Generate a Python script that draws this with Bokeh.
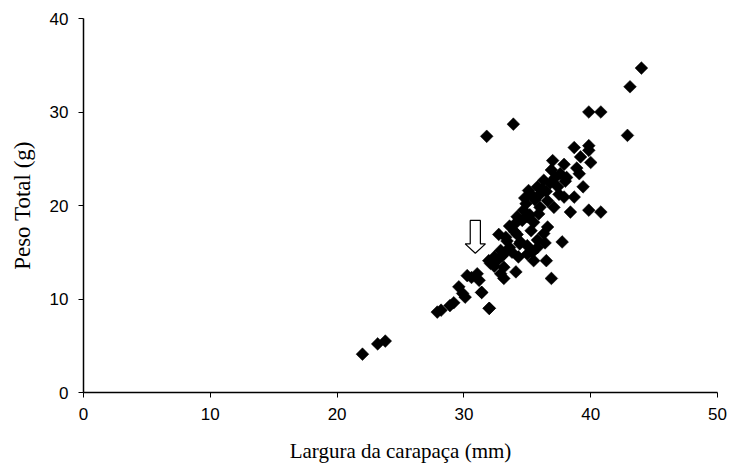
import numpy as np
from bokeh.plotting import figure
from bokeh.models import Range1d, FixedTicker, ColumnDataSource
from bokeh.embed import file_html
from bokeh.resources import INLINE

# Largura da carapaça (mm)
largura = [
    22.0, 23.2, 23.8,
    27.9, 28.2, 28.9, 29.2, 29.6, 29.9, 30.1, 30.26, 31.05, 31.2, 30.6,
    31.4, 32.0, 31.8, 33.9,
    31.96, 32.4, 32.9, 33.15, 32.9, 33.15, 32.75, 33.6, 34.2, 34.46, 35.0,
    35.4, 35.8, 35.5, 36.3, 36.6, 34.7, 34.9, 35.3, 35.8, 36.3, 36.0, 36.6,
    37.1, 37.4, 37.9, 38.4, 38.1, 37.6, 37.0, 37.9, 38.7, 39.2, 39.85, 39.85,
    40.0, 39.1, 39.4, 38.7, 35.0, 34.2, 34.0, 35.3, 35.8, 33.6, 33.15, 32.6,
    32.1, 34.3, 35.0, 33.4, 34.0, 34.6, 35.2, 35.6, 36.2, 36.8, 35.5, 36.0,
    34.4, 33.8, 33.0, 32.4, 36.5, 37.2, 38.0, 37.5, 36.9, 34.8, 35.9, 33.3,
    37.75, 36.9, 36.5, 34.1, 32.0, 31.4, 39.85, 40.8, 42.9, 43.1, 44.0,
    39.85, 40.8, 38.9, 36.4, 35.1,
]
# Peso Total (g)
peso = [
    4.1, 5.2, 5.5,
    8.6, 8.8, 9.3, 9.6, 11.3, 10.6, 10.2, 12.5, 12.7, 12.0, 12.3,
    10.7, 9.0, 27.4, 28.7,
    14.1, 14.5, 15.2, 13.4, 12.7, 12.2, 16.9, 17.8, 16.9, 16.1, 15.7,
    15.0, 15.5, 14.1, 17.0, 17.7, 19.5, 20.2, 21.2, 22.0, 22.7, 21.2, 20.5,
    19.8, 22.0, 20.9, 19.3, 23.0, 23.4, 24.8, 24.4, 26.2, 25.2, 26.4, 25.9,
    24.6, 23.4, 22.0, 20.9, 18.8, 18.8, 18.0, 17.3, 16.3, 15.5, 14.8, 14.1,
    13.8, 14.5, 14.8, 16.2, 17.2, 18.4, 19.0, 20.6, 21.8, 22.4, 18.2, 19.8,
    15.9, 15.0, 14.6, 13.5, 21.5, 23.0, 22.6, 21.2, 23.8, 20.8, 19.1, 16.6,
    16.1, 12.2, 14.1, 12.9, 9.0, 10.7, 30.0, 30.0, 27.5, 32.7, 34.7,
    19.5, 19.3, 24.0, 16.0, 21.6,
]

x_ticks = [0, 10, 20, 30, 40, 50]
y_ticks = [0, 10, 20, 30, 40]
x_label = "Largura da carapaça (mm)"
y_label = "Peso Total (g)"

# arrow annotation (data units)
arrow_x = 30.9
arrow_top = 18.4
arrow_neck = 15.9
arrow_tip = 14.9
arrow_shaft_half = 0.40
arrow_head_half = 0.80

p = figure(width=733, height=468, output_backend="svg", toolbar_location=None,
           x_range=Range1d(0, 50), y_range=Range1d(0, 40),
           min_border_left=83, min_border_right=16, min_border_top=18,
           min_border_bottom=76)
p.outline_line_color = None
p.grid.visible = False
p.background_fill_color = "white"
p.border_fill_color = "white"

src = ColumnDataSource(dict(x=largura, y=peso))
p.scatter("x", "y", source=src, marker="square", size=9, angle=np.pi / 4,
          fill_color="black", line_color="black", line_width=0.5)

ax = [arrow_x - arrow_shaft_half, arrow_x + arrow_shaft_half, arrow_x + arrow_shaft_half,
      arrow_x + arrow_head_half, arrow_x, arrow_x - arrow_head_half,
      arrow_x - arrow_shaft_half]
ay = [arrow_top, arrow_top, arrow_neck, arrow_neck, arrow_tip, arrow_neck, arrow_neck]
p.patch(ax, ay, fill_color="white", line_color="black", line_width=1.2)

for axis, ticks, label in ((p.xaxis[0], x_ticks, x_label), (p.yaxis[0], y_ticks, y_label)):
    axis.ticker = FixedTicker(ticks=ticks)
    axis.minor_tick_line_color = None
    axis.major_tick_in = 0
    axis.major_tick_out = 5
    axis.axis_line_width = 1.5
    axis.axis_line_color = "black"
    axis.major_tick_line_color = "black"
    axis.major_label_text_font = "Liberation Sans"
    axis.major_label_text_font_size = "17px"
    axis.major_label_text_color = "black"
    axis.axis_label = label
    axis.axis_label_text_font = "Liberation Serif"
    axis.axis_label_text_font_style = "normal"
    axis.axis_label_text_color = "black"

p.xaxis.axis_label_text_font_size = "21px"
p.yaxis.axis_label_text_font_size = "23px"
p.xaxis.major_label_standoff = 10
p.xaxis.axis_label_standoff = 16
p.yaxis.major_label_standoff = 10
p.yaxis.axis_label_standoff = 12

open("out.html", "w").write(file_html(p, INLINE))
